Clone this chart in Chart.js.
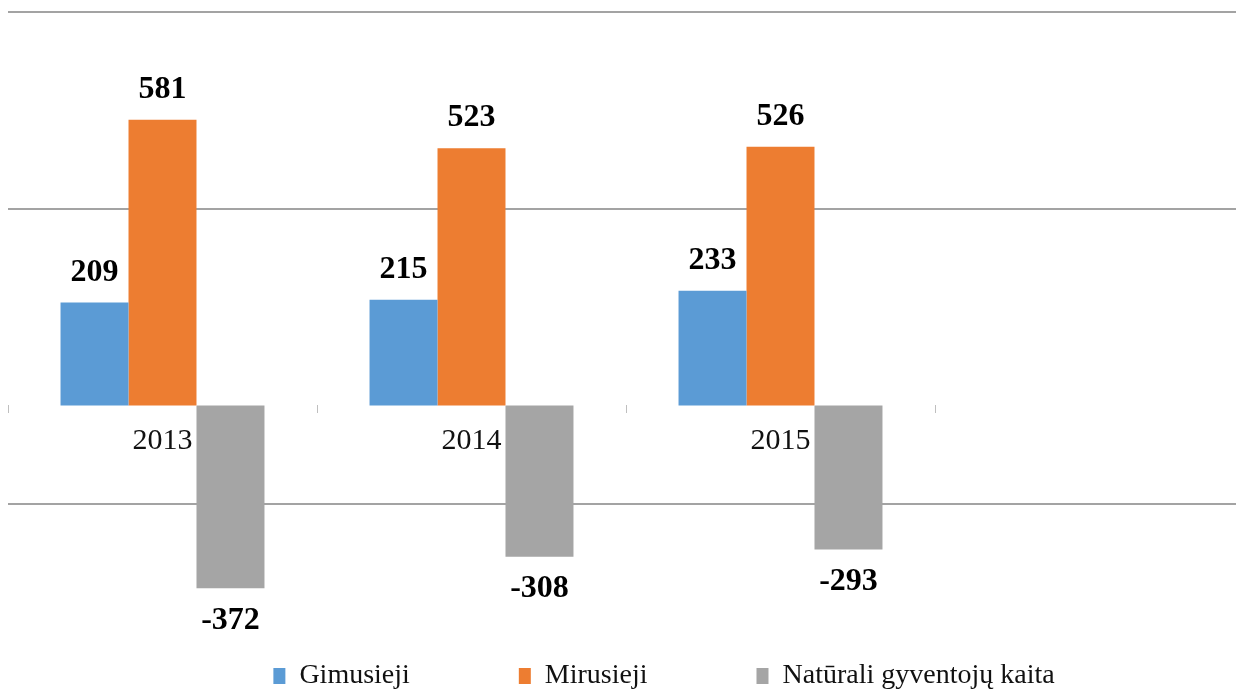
<!DOCTYPE html>
<html>
<head>
<meta charset="utf-8">
<script src="https://cdn.jsdelivr.net/npm/chart.js@4.4.1/dist/chart.umd.min.js"></script>
<style>
  html, body { margin: 0; padding: 0; background: #fff; overflow: hidden; }
  #wrap { width: 1244px; height: 695px; }
</style>
</head>
<body>
<div id="wrap"><canvas id="chart"></canvas></div>
<script>
// duomenys
const years = ['2013', '2014', '2015', ''];
const gimusieji = [209, 215, 233, null];
const mirusieji = [581, 523, 526, null];
const naturaliKaita = [-372, -308, -293, null];
const gridValues = [800, 400, -200];
const seriesNames = ['Gimusieji', 'Mirusieji', 'Natūrali gyventojų kaita'];

const serif = '"Liberation Serif", "Times New Roman", serif';

// reiksmiu etiketes virs / po stulpeliais
const valueLabels = {
    id: 'valueLabels',
    afterDatasetsDraw(chart) {
        const ctx = chart.ctx;
        ctx.save();
        ctx.font = 'bold 32px ' + serif;
        ctx.fillStyle = '#000';
        ctx.textAlign = 'center';
        ctx.textBaseline = 'middle';
        chart.data.datasets.forEach((ds, i) => {
            chart.getDatasetMeta(i).data.forEach((bar, j) => {
                const v = ds.data[j];
                if (v === null) return;
                const y = v >= 0 ? bar.y - 30 : bar.y + 32;
                ctx.fillText(String(v), bar.x, y);
            });
        });
        ctx.restore();
    }
};

// legenda truputi desiniau, kaip originale
const shiftLegend = {
    id: 'shiftLegend',
    afterLayout(chart) {
        const lg = chart.legend;
        lg.left += 38; lg.right += 38;
        lg.top += 5; lg.bottom += 5;
    }
};

new Chart(document.getElementById('chart'), {
    type: 'bar',
    data: {
        labels: years,
        datasets: [
            { label: seriesNames[0], data: gimusieji, backgroundColor: '#5B9BD5' },
            { label: seriesNames[1], data: mirusieji, backgroundColor: '#ED7D31' },
            { label: seriesNames[2], data: naturaliKaita, backgroundColor: '#A5A5A5' }
        ]
    },
    options: {
        responsive: true,
        maintainAspectRatio: false,
        animation: false,
        layout: { padding: { top: 12, left: 8, right: 0, bottom: 0 } },
        datasets: {
            bar: { categoryPercentage: 0.66, barPercentage: 1.0, borderWidth: 0, clip: false }
        },
        scales: {
            x: {
                position: { y: 0 },
                border: { display: false },
                grid: { drawOnChartArea: false, drawTicks: true, tickLength: 8, color: '#bfbfbf', lineWidth: 1 },
                ticks: { color: '#111', padding: 10, font: { family: serif, size: 30 } }
            },
            y: {
                min: -290,
                max: 800,
                border: { display: false },
                afterBuildTicks: (axis) => { axis.ticks = gridValues.map(v => ({ value: v })); },
                grid: { drawTicks: false, color: '#a3a3a3', lineWidth: 2 },
                ticks: { display: false }
            }
        },
        plugins: {
            tooltip: { enabled: false },
            legend: {
                position: 'bottom',
                labels: {
                    color: '#111',
                    boxWidth: 12,
                    boxHeight: 16,
                    padding: 109,
                    font: { family: serif, size: 28 }
                }
            }
        }
    },
    plugins: [valueLabels, shiftLegend]
});
</script>
</body>
</html>
